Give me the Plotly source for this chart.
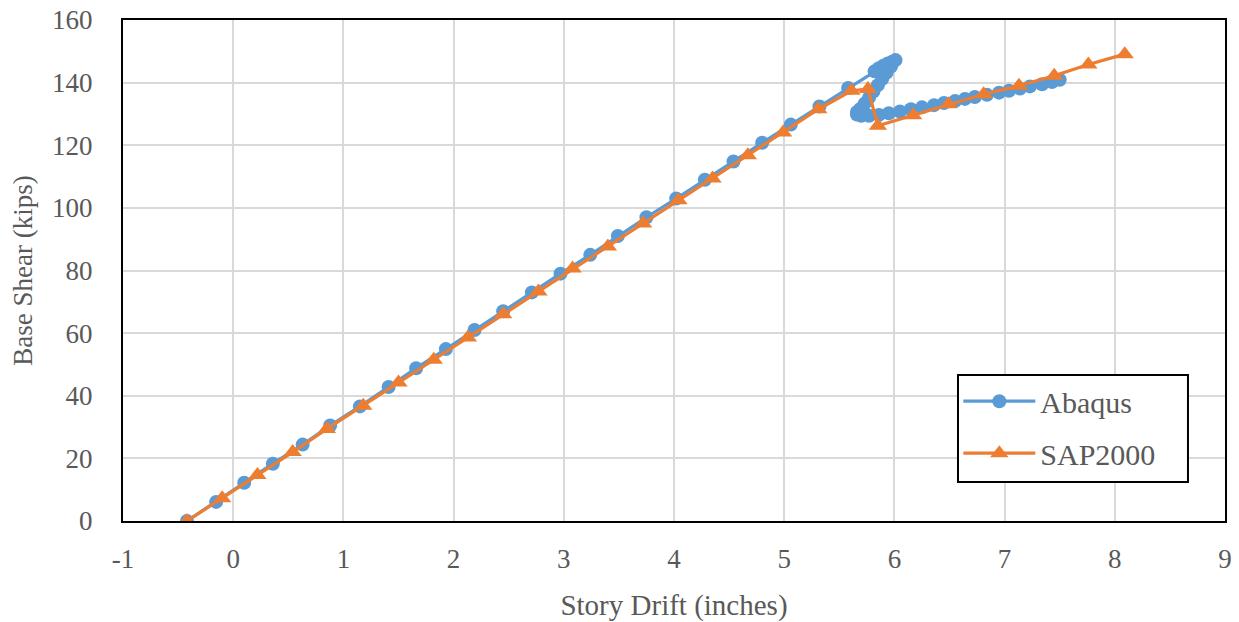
import plotly.graph_objects as go

# Abaqus pushover curve: story drift (in) vs base shear (kips)
abaqus_drift = [
    -0.42, -0.155, 0.10, 0.36, 0.63, 0.88, 1.15, 1.41, 1.66, 1.93, 2.19, 2.45,
    2.71, 2.97, 3.24, 3.49, 3.75, 4.02, 4.28, 4.54, 4.80, 5.06, 5.32, 5.58,
    5.82, 5.86, 5.90, 5.94, 5.98, 6.01,
    5.97, 5.93, 5.89, 5.85, 5.81, 5.77, 5.73, 5.69, 5.66, 5.66, 5.70, 5.77,
    5.86, 5.95, 6.05, 6.15, 6.25, 6.36, 6.45, 6.55, 6.64, 6.73, 6.84, 6.95,
    7.04, 7.14, 7.23, 7.34, 7.43, 7.50,
]
abaqus_shear = [
    0.0, 6.1, 12.2, 18.3, 24.4, 30.5, 36.6, 42.8, 48.8, 54.9, 61.0, 67.0,
    73.0, 79.0, 85.0, 91.0, 97.0, 103.0, 109.0, 114.8, 120.8, 126.6, 132.4, 138.3,
    143.6, 144.6, 145.4, 146.1, 146.7, 147.2,
    145.2, 143.2, 141.2, 139.2, 137.2, 135.2, 133.3, 131.6, 130.6, 129.8, 129.4, 129.4,
    129.7, 130.2, 130.8, 131.5, 132.1, 132.8, 133.5, 134.1, 134.8, 135.4, 136.1, 136.8,
    137.4, 138.1, 138.8, 139.5, 140.2, 140.9,
]

# SAP2000 pushover curve
sap_drift = [
    -0.42, -0.10, 0.22, 0.54, 0.85, 1.18, 1.50, 1.82, 2.13, 2.45, 2.77, 3.08,
    3.40, 3.72, 4.04, 4.35, 4.67, 4.99, 5.31, 5.61, 5.76, 5.85, 6.17, 6.49,
    6.81, 7.13, 7.45, 7.76, 8.09,
]
sap_shear = [
    0.0, 7.3, 14.7, 22.0, 29.4, 36.8, 44.2, 51.5, 58.6, 66.0, 73.3, 80.6,
    87.7, 95.0, 102.4, 109.4, 116.8, 124.1, 131.5, 137.4, 138.0, 126.2, 129.6, 133.1,
    136.3, 139.0, 142.2, 145.8, 149.1,
]

x_ticks = [-1, 0, 1, 2, 3, 4, 5, 6, 7, 8, 9]
y_ticks = [0, 20, 40, 60, 80, 100, 120, 140, 160]

BLUE = "#5B9BD5"
ORANGE = "#ED7D31"
TEXT = "#595959"
FONT = "Liberation Serif, Times New Roman, serif"

fig = go.Figure()
fig.add_trace(go.Scatter(
    x=abaqus_drift, y=abaqus_shear, name="Abaqus", mode="lines+markers",
    legendgroup="abaqus",
    line=dict(color=BLUE, width=3.2),
    marker=dict(symbol="circle", size=14, color=BLUE),
))
fig.add_trace(go.Scatter(
    x=sap_drift, y=sap_shear, name="SAP2000", mode="lines+markers",
    legendgroup="sap",
    line=dict(color=ORANGE, width=3.2),
    marker=dict(symbol="triangle-up", size=16, color=ORANGE),
))

# framed white box behind the legend entries
fig.add_shape(
    type="rect", xref="paper", yref="paper",
    x0=0.7577, x1=0.9664, y0=0.078, y1=0.2914,
    line=dict(color="black", width=2), fillcolor="white", layer="above",
)

fig.update_layout(
    width=1239, height=622,
    margin=dict(l=123, r=14, t=20, b=101),
    paper_bgcolor="white", plot_bgcolor="white",
    font=dict(family=FONT, size=27, color=TEXT),
    legend=dict(
        x=0.758, y=0.291, xanchor="left", yanchor="top",
        borderwidth=0, bgcolor="rgba(0,0,0,0)",
        font=dict(family=FONT, size=30, color=TEXT),
        itemwidth=72, tracegroupgap=10, traceorder="grouped",
    ),
)
fig.update_xaxes(
    range=[-1, 9], tickvals=x_ticks, ticktext=[str(v) for v in x_ticks],
    showgrid=True, gridcolor="#D9D9D9", gridwidth=2, zeroline=False,
    showline=True, linecolor="black", linewidth=2, mirror=True,
    ticks="", ticklabelstandoff=13, automargin=False,
    title=dict(text="Story Drift (inches)", font=dict(family=FONT, size=29, color=TEXT), standoff=22),
)
fig.update_yaxes(
    range=[0, 160], tickvals=y_ticks, ticktext=[str(v) for v in y_ticks],
    showgrid=True, gridcolor="#D9D9D9", gridwidth=2, zeroline=False,
    showline=True, linecolor="black", linewidth=2, mirror=True,
    ticks="", ticklabelstandoff=23, automargin=False,
    title=dict(text="Base Shear (kips)", font=dict(family=FONT, size=27, color=TEXT), standoff=12),
)

fig.write_html("out.html")
